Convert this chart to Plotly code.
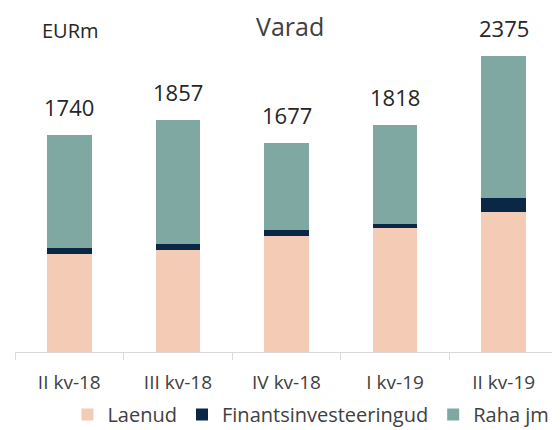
import plotly.graph_objects as go

categories = ["II kv-18", "III kv-18", "IV kv-18", "I kv-19", "II kv-19"]
laenud = [785, 817, 929, 990, 1122]
finants = [48, 48, 48, 35, 109]
raha = [907, 992, 700, 793, 1144]
totals = [1740, 1857, 1677, 1818, 2375]

C_LAENUD = "#F4CBB4"
C_FIN = "#0A2846"
C_RAHA = "#7FA8A2"
FONT = "Open Sans"
TXT = "#262626"

fig = go.Figure()
fig.add_trace(go.Bar(name="Laenud", x=categories, y=laenud, marker=dict(color=C_LAENUD, line=dict(width=0))))
fig.add_trace(go.Bar(name="Finantsinvesteeringud", x=categories, y=finants, marker=dict(color=C_FIN, line=dict(width=0))))
fig.add_trace(go.Bar(name="Raha jm", x=categories, y=raha, marker=dict(color=C_RAHA, line=dict(width=0))))

annotations = []
for c, t in zip(categories, totals):
    annotations.append(dict(x=c, y=t, text=str(t), showarrow=False, yanchor="middle",
                            yshift=28, font=dict(family=FONT, size=22, color=TXT)))
annotations.append(dict(x=0.103, y=1.03, xref="paper", yref="paper", text="EURm", showarrow=False,
                        xanchor="center", yanchor="middle", font=dict(family=FONT, size=20, color=TXT)))
annotations.append(dict(x=0.506, y=1.105, xref="paper", yref="paper", text="Varad", showarrow=False,
                        xanchor="center", yanchor="top", font=dict(family=FONT, size=25, color="#404040")))

# page body has an 8px margin: figure is offset by 8px
fig.update_layout(
    width=552, height=422,
    margin=dict(l=7, r=2, t=32, b=78, autoexpand=False),
    barmode="stack", bargap=0.59,
    plot_bgcolor="white", paper_bgcolor="white",
    font=dict(family=FONT, color=TXT),
    showlegend=True,
    legend=dict(orientation="h", x=0.545, xanchor="center", y=-0.2, yanchor="middle",
                font=dict(family=FONT, size=20, color="#404040"), traceorder="normal",
                itemwidth=30),
    annotations=annotations,
    xaxis=dict(showline=True, linecolor="#d9d9d9", linewidth=1, ticks="outside", ticklen=7,
               tickcolor="#d9d9d9", tickson="boundaries", showgrid=False,
               ticklabelstandoff=13,
               tickfont=dict(family=FONT, size=19, color="#404040")),
    yaxis=dict(visible=False, range=[0, 2500], showgrid=False),
)

fig.write_html("out.html")
